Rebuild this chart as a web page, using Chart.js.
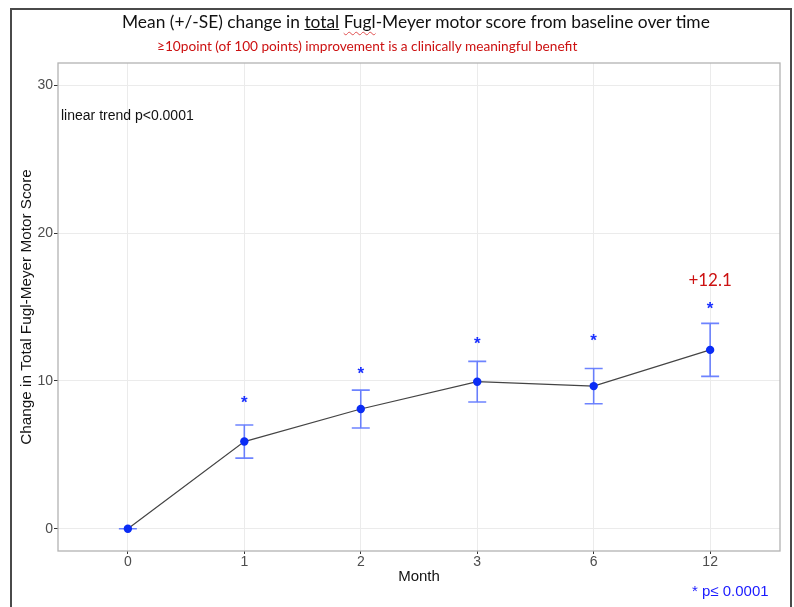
<!DOCTYPE html>
<html>
<head>
<meta charset="utf-8">
<script src="https://cdn.jsdelivr.net/npm/chart.js@4.4.1/dist/chart.umd.min.js"></script>
<style>
  html, body { margin: 0; padding: 0; background: #fff; }
  #wrap { position: relative; width: 794px; height: 607px; overflow: hidden; }
  #frame { position: absolute; left: 10px; top: 8px; width: 782px; height: 640px; box-sizing: border-box;
           border: 2px solid #4a4a4a; pointer-events: none; }
  #chartBox { position: absolute; left: 0; top: 0; width: 794px; height: 607px; }
  .ttl { position: absolute; white-space: nowrap; font-family: Lato, "Open Sans", sans-serif; }
  #title { color: #111; top: 10px; left: 122px; font-size: 19px; line-height: 24px; }
  #sub { color: #cc1111; top: 37px; left: 157px; font-size: 14px; line-height: 18px; }
  .spell { text-decoration: underline wavy #e05050; text-decoration-thickness: 1px; text-underline-offset: 3px; }
</style>
</head>
<body>
<div id="wrap">
  <div id="chartBox"><canvas id="c"></canvas></div>
  <div id="frame"></div>
  <div id="title" class="ttl">Mean (+/-SE) change in <u>total</u> <span class="spell">Fugl</span>-Meyer motor score from baseline over time</div>
  <div id="sub" class="ttl">≥10point (of 100 points) improvement is a clinically meaningful benefit</div>
</div>
<script>
// ---- data ----
const months = ['0', '1', '2', '3', '6', '12'];
const meanChange = [0, 5.9, 8.1, 9.95, 9.65, 12.1];
const seChange = [0, 1.12, 1.28, 1.37, 1.19, 1.79];
const starY = [null, 8.8, 10.8, 12.8, 13.0, 15.2];
const yTicks = [0, 10, 20, 30];
const finalLabel = '+12.1';
const finalLabelY = 16.8;
const trendText = 'linear trend p<0.0001';
const sigText = '* p\u2264 0.0001';

// fit title widths
function fit(id, target) {
  const el = document.getElementById(id);
  const fs = parseFloat(getComputedStyle(el).fontSize);
  const w = el.getBoundingClientRect().width;
  el.style.fontSize = (fs * target / w) + 'px';
}
fit('title', 588);
fit('sub', 421);

const points = months.map((m, i) => ({ x: i, y: meanChange[i] }));

const overlay = {
  id: 'overlay',
  beforeDatasetsDraw(chart) {
    const { ctx, scales: { x, y } } = chart;
    ctx.save();
    ctx.strokeStyle = 'rgba(60,90,255,0.75)';
    ctx.lineWidth = 1.6;
    meanChange.forEach((m, i) => {
      const px = x.getPixelForValue(i);
      const top = y.getPixelForValue(m + seChange[i]);
      const bot = y.getPixelForValue(m - seChange[i]);
      ctx.beginPath();
      ctx.moveTo(px, top); ctx.lineTo(px, bot);
      ctx.moveTo(px - 9, top); ctx.lineTo(px + 9, top);
      ctx.moveTo(px - 9, bot); ctx.lineTo(px + 9, bot);
      ctx.stroke();
    });
    ctx.restore();
  },
  afterDraw(chart) {
    const { ctx, chartArea: a, scales: { x, y } } = chart;
    ctx.save();
    // panel border
    ctx.strokeStyle = '#b3b3b3';
    ctx.lineWidth = 1.3;
    ctx.strokeRect(a.left, a.top, a.right - a.left, a.bottom - a.top);
    // significance stars
    ctx.fillStyle = '#1a30ff';
    ctx.font = 'bold 17px "Liberation Sans", Arial, sans-serif';
    ctx.textAlign = 'center';
    ctx.textBaseline = 'alphabetic';
    starY.forEach((v, i) => {
      if (v == null) return;
      ctx.fillText('*', x.getPixelForValue(i), y.getPixelForValue(v) + 0.57 * 17);
    });
    // final label
    ctx.fillStyle = '#cc1111';
    ctx.font = '17px Lato, "Open Sans", sans-serif';
    ctx.textBaseline = 'middle';
    ctx.fillText(finalLabel, x.getPixelForValue(months.length - 1), y.getPixelForValue(finalLabelY));
    // trend text
    ctx.fillStyle = '#111';
    ctx.font = '14px "Liberation Sans", Arial, sans-serif';
    ctx.textAlign = 'left';
    ctx.fillText(trendText, a.left + 3, 116);
    // significance legend
    ctx.fillStyle = '#1a1aff';
    ctx.font = '15px "Liberation Sans", Arial, sans-serif';
    ctx.fillText(sigText, 692, 592);
    ctx.restore();
  }
};

new Chart(document.getElementById('c'), {
  type: 'scatter',
  data: {
    datasets: [{
      data: points,
      showLine: true,
      borderColor: '#444',
      borderWidth: 1.2,
      pointRadius: 4.2,
      pointBackgroundColor: '#0a2cf5',
      pointBorderColor: '#0a2cf5',
      pointBorderWidth: 0,
      tension: 0
    }]
  },
  options: {
    responsive: true,
    maintainAspectRatio: false,
    animation: false,
    devicePixelRatio: 1,
    layout: { padding: { left: 0, top: 63, right: 14, bottom: 0 } },
    plugins: { legend: { display: false }, tooltip: { enabled: false } },
    scales: {
      x: {
        type: 'linear',
        min: -0.6, max: 5.6,
        afterBuildTicks: s => { s.ticks = months.map((m, i) => ({ value: i })); },
        afterFit: s => { s.height = 56; },
        ticks: {
          callback: v => months[v],
          color: '#4d4d4d',
          font: { family: '"Liberation Sans", Arial, sans-serif', size: 14 },
          padding: 0,
          maxRotation: 0
        },
        grid: { color: '#ebebeb', lineWidth: 1, tickColor: '#333', tickLength: 3 },
        border: { display: false },
        title: {
          display: true, text: 'Month', color: '#111',
          font: { family: '"Liberation Sans", Arial, sans-serif', size: 15 },
          padding: { top: 0, bottom: 21 }
        }
      },
      y: {
        type: 'linear',
        min: -1.5, max: 31.5,
        afterBuildTicks: s => { s.ticks = yTicks.map(v => ({ value: v })); },
        afterFit: s => { s.width = 58; },
        ticks: {
          color: '#4d4d4d',
          font: { family: '"Liberation Sans", Arial, sans-serif', size: 14 },
          padding: 1
        },
        grid: { color: '#ebebeb', lineWidth: 1, tickColor: '#333', tickLength: 4 },
        border: { display: false },
        title: {
          display: true, text: 'Change in Total Fugl-Meyer Motor Score', color: '#111',
          font: { family: '"Liberation Sans", Arial, sans-serif', size: 15.3 },
          padding: { top: 18, bottom: 0 }
        }
      }
    }
  },
  plugins: [overlay]
});
</script>
</body>
</html>
